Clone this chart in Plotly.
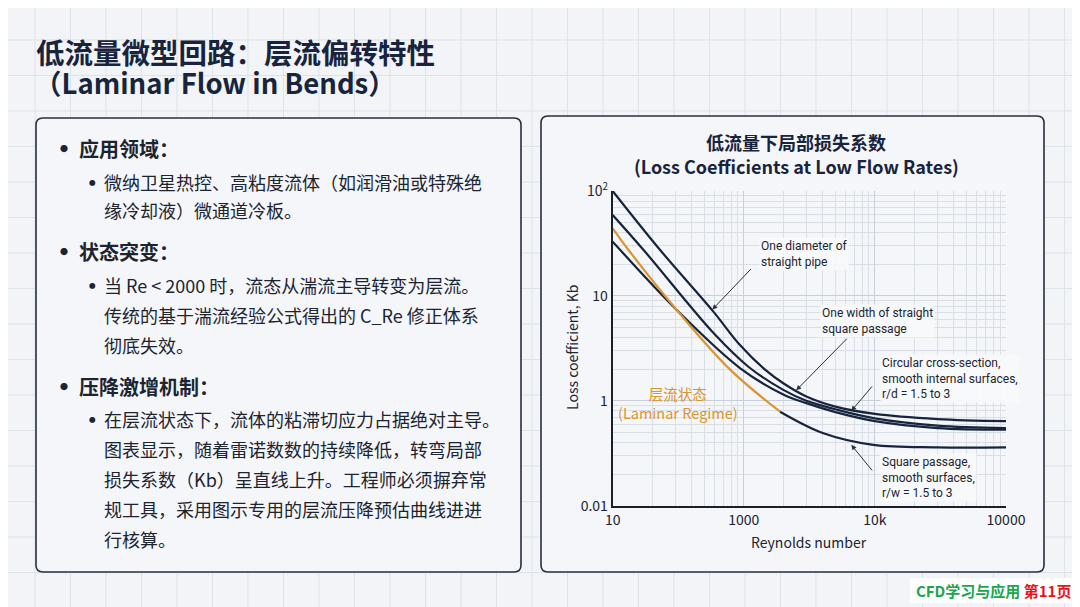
import numpy as np
import plotly.graph_objects as go

W, H = 1080, 607
OFF = 8  # page body margin in the browser

# ---- data (Reynolds number vs loss coefficient) ----
re_pipe = [10, 23, 58.6, 93.5, 146, 200, 300, 500, 1000, 3000, 10000]
k_pipe = [100, 27.4, 7.08, 3.4, 1.97, 1.47, 1.1, 0.88, 0.75, 0.67, 0.64]

re_width = [10, 17.2, 60, 109, 200, 300, 500, 1000, 3000, 10000]
k_width = [59, 27.4, 4.3, 2.1, 1.27, 1.0, 0.83, 0.68, 0.58, 0.55]

re_circ = [10, 30.8, 94, 200, 300, 500, 1000, 3000, 10000]
k_circ = [32.9, 7.34, 2.04, 1.15, 0.95, 0.78, 0.64, 0.55, 0.53]

re_lam = [10, 13.2, 30.8, 79, 189]
k_lam = [44, 27.4, 7.34, 1.97, 0.787]

re_sq = [189, 405, 973, 3000, 10000]
k_sq = [0.787, 0.49, 0.38, 0.36, 0.36]

x_tickvals = [10, 100, 1000, 10000]
x_ticktext = ["10", "1000", "10k", "10000"]
y_tickvals = [0.1, 1, 10, 100]
y_ticktext = ["0.01", "1", "10", "10<sup>2</sup>"]

title_lines = ["低流量微型回路：层流偏转特性", "（Laminar Flow in Bends）"]
chart_title = ["低流量下局部损失系数", "(Loss Coefficients at Low Flow Rates)"]

headings = ["应用领域：", "状态突变：", "压降激增机制："]
heading_y = [148, 251, 386]
sub_lines = [
    ["微纳卫星热控、高粘度流体（如润滑油或特殊绝", "缘冷却液）微通道冷板。"],
    ["当 Re &lt; 2000 时，流态从湍流主导转变为层流。", "传统的基于湍流经验公式得出的 C_Re 修正体系", "彻底失效。"],
    ["在层流状态下，流体的粘滞切应力占据绝对主导。", "图表显示，随着雷诺数数的持续降低，转弯局部",
     "损失系数（Kb）呈直线上升。工程师必须摒弃常", "规工具，采用图示专用的层流压降预估曲线进进", "行核算。"],
]
sub_y = [[182, 210], [285, 315, 345], [419, 449, 479, 509, 539]]

NAVY = "#18243d"
ORANGE = "#d9952f"
TEXT = "#1c2430"
CJK = "Noto Sans CJK SC"


def px(x):
    return (x - OFF) / W


def py(y):
    return 1 - (y - OFF) / H


def rrect(x0, y0, x1, y1, r):
    # rounded rectangle path, window pixels -> paper coords
    X = lambda v: f"{px(v):.5f}"
    Y = lambda v: f"{py(v):.5f}"
    return (f"M{X(x0 + r)},{Y(y0)} L{X(x1 - r)},{Y(y0)} Q{X(x1)},{Y(y0)} {X(x1)},{Y(y0 + r)} "
            f"L{X(x1)},{Y(y1 - r)} Q{X(x1)},{Y(y1)} {X(x1 - r)},{Y(y1)} "
            f"L{X(x0 + r)},{Y(y1)} Q{X(x0)},{Y(y1)} {X(x0)},{Y(y1 - r)} "
            f"L{X(x0)},{Y(y0 + r)} Q{X(x0)},{Y(y0)} {X(x0 + r)},{Y(y0)} Z")


fig = go.Figure()

line_style = dict(color=NAVY, width=2.2, shape="spline")
fig.add_trace(go.Scatter(x=re_pipe, y=k_pipe, mode="lines", line=line_style))
fig.add_trace(go.Scatter(x=re_width, y=k_width, mode="lines", line=line_style))
fig.add_trace(go.Scatter(x=re_circ, y=k_circ, mode="lines", line=line_style))
fig.add_trace(go.Scatter(x=re_sq, y=k_sq, mode="lines", line=line_style))
fig.add_trace(go.Scatter(x=re_lam, y=k_lam, mode="lines",
                         line=dict(color=ORANGE, width=2.2, shape="spline")))

shapes = []
# graph-paper background
for gx in np.arange(35, W + OFF, 35.5):
    shapes.append(dict(type="line", xref="paper", yref="paper", x0=px(gx), x1=px(gx), y0=0, y1=1,
                       line=dict(color="#dde3ea", width=1), layer="below"))
for gy in np.arange(4.5, H + OFF, 35.5):
    shapes.append(dict(type="line", xref="paper", yref="paper", x0=0, x1=1, y0=py(gy), y1=py(gy),
                       line=dict(color="#dde3ea", width=1), layer="below"))
# panels
for box in [(36, 118, 521, 572), (541, 116, 1044, 572)]:
    shapes.append(dict(type="path", xref="paper", yref="paper", path=rrect(*box, 7),
                       fillcolor="#f4f6f9", line=dict(color="#27303f", width=1.6), layer="below"))
# laminar regime shading
shapes.append(dict(type="rect", xref="x", yref="y domain", x0=1, x1=2, y0=0, y1=1,
                   fillcolor="#f6ead6", line=dict(width=0), layer="below"))
shapes.append(dict(type="line", xref="x", yref="y domain", x0=2, x1=2, y0=0, y1=1,
                   line=dict(color="#ddd0b8", width=1.5), layer="below"))
# watermark box
shapes.append(dict(type="rect", xref="paper", yref="paper", x0=px(910), x1=px(1078), y0=py(603), y1=py(578),
                   fillcolor="white", line=dict(width=0), layer="above"))

ann = []
ann.append(dict(x=px(34), y=py(52), text=f"<b>{title_lines[0]}</b>", xanchor="left", yanchor="middle",
                font=dict(family=CJK, size=28.5, color=NAVY)))
ann.append(dict(x=px(32), y=py(82), text=f"<b>{title_lines[1]}</b>", xanchor="left", yanchor="middle",
                font=dict(family=CJK, size=27.5, color=NAVY)))

for h, hy, lines, ys in zip(headings, heading_y, sub_lines, sub_y):
    ann.append(dict(x=px(58), y=py(hy), text="●", xanchor="left", yanchor="middle",
                    font=dict(family=CJK, size=8, color=TEXT)))
    ann.append(dict(x=px(77), y=py(hy), text=f"<b>{h}</b>", xanchor="left", yanchor="middle",
                    font=dict(family=CJK, size=20, color=TEXT)))
    ann.append(dict(x=px(87), y=py(ys[0]), text="●", xanchor="left", yanchor="middle",
                    font=dict(family=CJK, size=6.5, color=TEXT)))
    for t, ly in zip(lines, ys):
        ann.append(dict(x=px(102), y=py(ly), text=t, xanchor="left", yanchor="middle",
                        font=dict(family=CJK, size=18, color=TEXT)))

ann.append(dict(x=px(796), y=py(142), text=f"<b>{chart_title[0]}</b>", xanchor="center", yanchor="middle",
                font=dict(family=CJK, size=18, color=NAVY)))
ann.append(dict(x=px(796), y=py(166), text=f"<b>{chart_title[1]}</b>", xanchor="center", yanchor="middle",
                font=dict(family=CJK, size=18, color=NAVY)))

ann.append(dict(x=px(809), y=py(542), text="Reynolds number", xanchor="center", yanchor="middle",
                font=dict(family=CJK, size=14, color=TEXT)))
ann.append(dict(x=px(572), y=py(348), text="Loss coefficient, Kb", textangle=-90, xanchor="center",
                yanchor="middle", font=dict(family=CJK, size=14, color=TEXT)))

ann.append(dict(x=px(678), y=py(403), text="层流状态<br>(Laminar Regime)", xanchor="center", yanchor="middle",
                font=dict(family=CJK, size=14.5, color=ORANGE)))

label_font = dict(family="Liberation Sans Narrow, Roboto", size=12, color=TEXT)
labels = [
    (759, 254, "One diameter of<br>straight pipe"),
    (820, 320.5, "One width of straight<br>square passage"),
    (880, 378, "Circular cross-section,<br>smooth internal surfaces,<br>r/d = 1.5 to 3"),
    (880, 477, "Square passage,<br>smooth surfaces,<br>r/w = 1.5 to 3"),
]
for lx, ly, t in labels:
    ann.append(dict(x=px(lx), y=py(ly), text=t, xanchor="left", yanchor="middle", align="left",
                    bgcolor="rgba(247,249,251,0.92)", font=label_font))

arrows = [(1.76, 0.87, 40, -42), (2.40, 0.10, 52, -53), (2.82, -0.097, 22, -26), (2.82, -0.42, 22, 27)]
for axx, ayy, dx, dy in arrows:
    ann.append(dict(x=axx, y=ayy, xref="x", yref="y", text="", showarrow=True, ax=dx, ay=dy,
                    arrowhead=2, arrowsize=1, arrowwidth=1, arrowcolor="#2b2f36"))

ann.append(dict(x=px(993), y=py(590),
                text="<b><span style='color:#1aa64b'>CFD学习与应用</span> <span style='color:#e8141b'>第11页</span></b>",
                xanchor="center", yanchor="middle", font=dict(family=CJK, size=15)))

for a in ann:
    a.setdefault("xref", "paper")
    a.setdefault("yref", "paper")
    a.setdefault("showarrow", False)

x_minor = [d * 10 ** e for e in range(1, 4) for d in range(2, 10)]
y_minor = [d * 10 ** e for e in range(-1, 2) for d in range(2, 10)]

fig.update_layout(
    width=W, height=H,
    margin=dict(l=0, r=0, t=0, b=0),
    paper_bgcolor="#f2f4f7",
    plot_bgcolor="rgba(0,0,0,0)",
    showlegend=False,
    shapes=shapes,
    annotations=ann,
    xaxis=dict(type="log", range=[1, 4], domain=[px(612.7), px(1006)], automargin=False,
               tickvals=x_tickvals, ticktext=x_ticktext, ticks="",
               tickfont=dict(family=CJK, size=14, color=TEXT),
               showgrid=True, gridcolor="#c6cfdb", gridwidth=1,
               minor=dict(tickvals=x_minor, showgrid=True, gridcolor="#d9dfe7", gridwidth=1),
               showline=True, linecolor="#1b1f27", linewidth=2, zeroline=False),
    yaxis=dict(type="log", range=[-1, 2], domain=[py(505.7), py(191)], automargin=False,
               tickvals=y_tickvals, ticktext=y_ticktext, ticks="",
               tickfont=dict(family=CJK, size=14, color=TEXT),
               showgrid=True, gridcolor="#c6cfdb", gridwidth=1,
               minor=dict(tickvals=y_minor, showgrid=True, gridcolor="#d9dfe7", gridwidth=1),
               showline=True, linecolor="#1b1f27", linewidth=2, zeroline=False),
)

fig.write_html("out.html")
